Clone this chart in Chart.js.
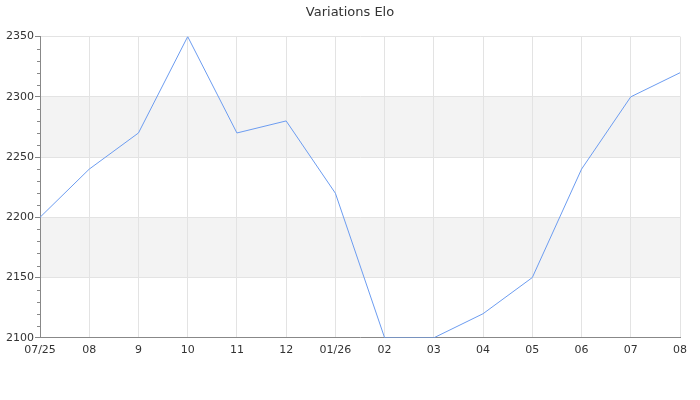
<!DOCTYPE html>
<html>
<head>
<meta charset="utf-8">
<script src="https://cdn.jsdelivr.net/npm/chart.js@4/dist/chart.umd.min.js"></script>
<style>
  html, body { margin: 0; padding: 0; background: #fff; }
  #wrap { width: 700px; height: 400px; }
</style>
</head>
<body>
<div id="wrap"><canvas id="eloChart"></canvas></div>
<script>
const months = ["07/25", "08", "9", "10", "11", "12", "01/26", "02", "03", "04", "05", "06", "07", "08"];
const eloValues = [2200, 2240, 2270, 2350, 2270, 2280, 2220, 2100, 2100, 2120, 2150, 2240, 2300, 2320];
const shadedBands = [[2150, 2200], [2250, 2300]];
const minorStep = 10;

// grey bands behind the grid
const bandsPlugin = {
  id: "bands",
  beforeDraw(chart) {
    const { ctx, chartArea, scales } = chart;
    ctx.save();
    ctx.fillStyle = "#f3f3f3";
    shadedBands.forEach(([lo, hi]) => {
      const top = scales.y.getPixelForValue(hi);
      const bottom = scales.y.getPixelForValue(lo);
      ctx.fillRect(chartArea.left, top, chartArea.right - chartArea.left, bottom - top);
    });
    ctx.restore();
  }
};

// small ticks on the y axis between the labelled ones
const minorTicksPlugin = {
  id: "minorTicks",
  afterDraw(chart) {
    const { ctx, chartArea, scales } = chart;
    const y = scales.y;
    ctx.save();
    ctx.strokeStyle = "#888";
    ctx.lineWidth = 1;
    ctx.beginPath();
    for (let v = y.min; v <= y.max; v += minorStep) {
      if (v % 50 === 0) continue;
      const py = Math.round(y.getPixelForValue(v)) + 0.5;
      ctx.moveTo(chartArea.left - 3, py);
      ctx.lineTo(chartArea.left, py);
    }
    ctx.stroke();
    ctx.restore();
  }
};

Chart.defaults.font.family = "'DejaVu Sans', sans-serif";
Chart.defaults.font.size = 11;
Chart.defaults.color = "#333";

new Chart(document.getElementById("eloChart"), {
  type: "line",
  data: {
    labels: months,
    datasets: [{
      data: eloValues,
      borderColor: "#6c9cf0",
      borderWidth: 1,
      pointRadius: 0,
      tension: 0,
      fill: false
    }]
  },
  options: {
    responsive: true,
    maintainAspectRatio: false,
    animation: false,
    layout: { padding: { left: 0, right: 0, top: 0, bottom: 37 } },
    plugins: {
      legend: { display: false },
      tooltip: { enabled: false },
      title: {
        display: true,
        text: "Variations Elo",
        color: "#333",
        font: { size: 13, weight: "normal" },
        padding: { top: 5, bottom: 16 }
      }
    },
    scales: {
      x: {
        offset: false,
        grid: { color: "#e3e3e3", drawTicks: false },
        border: { color: "#888" },
        ticks: { padding: 6, maxRotation: 0, autoSkip: false, color: "#333" }
      },
      y: {
        min: 2100,
        max: 2350,
        afterFit: (scale) => { scale.width = 40; },
        ticks: { stepSize: 50, padding: 1, color: "#333", callback: (v) => String(v) },
        grid: { color: "#e3e3e3", tickLength: 5, tickColor: "#888" },
        border: { color: "#888" }
      },
      // empty right axis, only keeps a 20px margin so the title stays centred
      yRight: {
        position: "right",
        min: 2100,
        max: 2350,
        afterFit: (scale) => { scale.width = 20; },
        ticks: { display: false },
        grid: { display: false, drawTicks: false },
        border: { display: false }
      }
    }
  },
  plugins: [bandsPlugin, minorTicksPlugin]
});
</script>
</body>
</html>
